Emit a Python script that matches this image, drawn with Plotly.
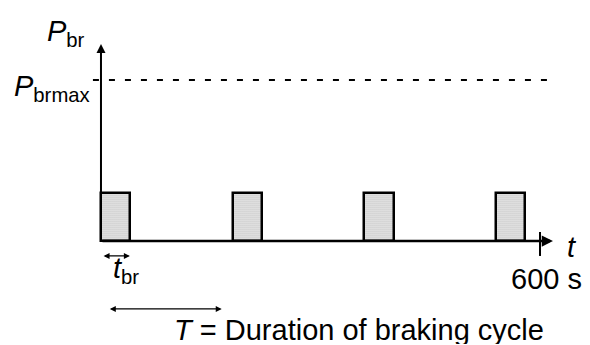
import plotly.graph_objects as go

# Braking power profile: short braking pulses repeated every cycle
T_CYCLE = 180          # s, duration of braking cycle
T_BR = 40              # s, braking time per cycle
T_END = 600            # s, end of the time window
P_BR = 30              # braking power level (relative)
P_BRMAX = 100          # maximum braking power (relative)

pulse_starts = [0, 180, 360, 540]
pulse_heights = [P_BR, P_BR, P_BR, P_BR]

X_RANGE = [-138.0, 668.3]
Y_RANGE = [-64.6, 149.7]
FONT = "Liberation Sans, Arial, sans-serif"
FS = 29

fig = go.Figure()

fig.add_trace(go.Bar(
    x=[s + T_BR / 2 for s in pulse_starts],
    y=pulse_heights,
    width=[T_BR] * len(pulse_starts),
    marker=dict(
        color="white",
        line=dict(color="black", width=2.5),
        pattern=dict(shape=".", fgcolor="#6e6e6e", bgcolor="white", size=2, solidity=0.6),
    ),
    showlegend=False,
    hoverinfo="skip",
))

shapes = [
    # dashed level of the maximum braking power
    dict(type="line", x0=-11, x1=620, y0=P_BRMAX, y1=P_BRMAX,
         line=dict(color="black", width=2, dash="6px,10px")),
    # tick marking the end of the window
    dict(type="line", x0=T_END, x1=T_END, y0=5.6, y1=-9.3,
         line=dict(color="black", width=2)),
]

def label(x, y, text, **kw):
    return dict(x=x, y=y, xref="x", yref="y", showarrow=False, text=text,
                font=dict(size=FS, family=FONT, color="black"), borderpad=0, **kw)

annotations = [
    # time axis
    dict(x=617.7, y=0, ax=0, ay=0, xref="x", yref="y", axref="x", ayref="y",
         showarrow=True, arrowhead=2, arrowsize=0.9, arrowwidth=2.5, arrowcolor="black", text=""),
    # power axis
    dict(x=0, y=122.4, ax=0, ay=0, xref="x", yref="y", axref="x", ayref="y",
         showarrow=True, arrowhead=2, arrowsize=0.9, arrowwidth=2, arrowcolor="black", text=""),
    # braking time arrow
    dict(x=T_BR - 0.5, y=-9.3, ax=1.5, ay=-9.3, xref="x", yref="y", axref="x", ayref="y",
         showarrow=True, arrowhead=2, startarrowhead=2, arrowside="end+start",
         arrowsize=1, arrowwidth=1.2, arrowcolor="black", text=""),
    # cycle duration arrow
    dict(x=165, y=-42.2, ax=10, ay=-42.2, xref="x", yref="y", axref="x", ayref="y",
         showarrow=True, arrowhead=2, startarrowhead=2, arrowside="end+start",
         arrowsize=1, arrowwidth=1.2, arrowcolor="black", text=""),
    # labels
    label(-48, 129, "<i>P</i><sub>br</sub>"),
    label(-67, 95, "<i>P</i><sub>brmax</sub>"),
    label(644, -3.5, "<i>t</i>", height=21),
    label(609, -23.5, "600 s", height=21),
    label(34, -18, "<i>t</i><sub>br</sub>"),
    label(352, -55.5, "<i>T</i> = Duration of braking cycle", height=28),
]

fig.update_layout(
    width=590, height=345,
    margin=dict(l=0, r=0, t=0, b=0),
    paper_bgcolor="white", plot_bgcolor="white",
    xaxis=dict(range=X_RANGE, visible=False, fixedrange=True),
    yaxis=dict(range=Y_RANGE, visible=False, fixedrange=True),
    shapes=shapes,
    annotations=annotations,
    bargap=0,
)

fig.write_html("out.html")
